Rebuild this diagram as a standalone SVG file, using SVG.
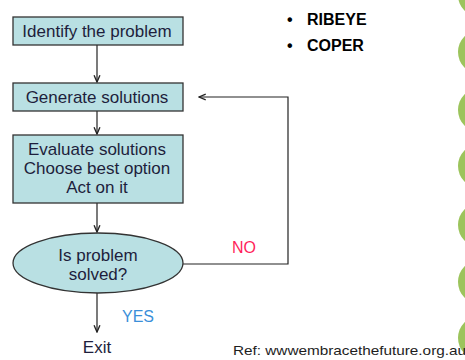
<svg xmlns="http://www.w3.org/2000/svg" width="465" height="360" viewBox="0 0 465 360">
  <defs>
    <style>
      .box { fill: #b9e0e3; stroke: #333333; stroke-width: 1.3; }
      .lbl { font-family: "Liberation Sans", Arial, sans-serif; font-size: 17px; fill: #1e1e3c; text-anchor: middle; }
      .line { fill: none; stroke: #222222; stroke-width: 1.2; }
      .dot { fill: #9cc45c; }
      .bullet { font-family: "Liberation Sans", Arial, sans-serif; font-size: 16px; font-weight: bold; fill: #000000; }
      .edge { font-family: "Liberation Sans", Arial, sans-serif; font-size: 16px; }
    </style>
    <marker id="arrow" viewBox="0 0 10 10" refX="9" refY="5" markerWidth="7" markerHeight="7" orient="auto">
      <path d="M1,1.5 L9,5 L1,8.5" fill="none" stroke="#222222" stroke-width="1.6"/>
    </marker>
  </defs>

  <rect width="465" height="360" fill="#ffffff"/>

  <!-- decorative green circles along the right edge -->
  <g id="side-dots">
    <circle class="dot" cx="480" cy="-5" r="22"/>
    <circle class="dot" cx="480" cy="52" r="22"/>
    <circle class="dot" cx="480" cy="110" r="22"/>
    <circle class="dot" cx="480" cy="166" r="22"/>
    <circle class="dot" cx="480" cy="225" r="22"/>
    <circle class="dot" cx="480" cy="282" r="22"/>
    <circle class="dot" cx="480" cy="338" r="22"/>
  </g>

  <!-- connectors -->
  <g id="connectors">
    <line class="line" x1="97" y1="45" x2="97" y2="82" marker-end="url(#arrow)"/>
    <line class="line" x1="97" y1="111" x2="97" y2="134" marker-end="url(#arrow)"/>
    <line class="line" x1="97" y1="203" x2="97" y2="232" marker-end="url(#arrow)"/>
    <line class="line" x1="97" y1="293" x2="97" y2="332" marker-end="url(#arrow)"/>
    <polyline class="line" points="183,264 288,264 288,97 199,97" marker-end="url(#arrow)"/>
  </g>

  <g id="identify">
    <rect class="box" x="13" y="17" width="170" height="28"/>
    <text class="lbl" x="97" y="37">Identify the problem</text>
  </g>

  <g id="generate">
    <rect class="box" x="13" y="83" width="170" height="28"/>
    <text class="lbl" x="97" y="103">Generate solutions</text>
  </g>

  <g id="evaluate">
    <rect class="box" x="13" y="135" width="170" height="68"/>
    <text class="lbl" x="97" y="155">Evaluate solutions</text>
    <text class="lbl" x="97" y="174">Choose best option</text>
    <text class="lbl" x="97" y="193">Act  on it</text>
  </g>

  <g id="decision">
    <ellipse class="box" cx="98" cy="263" rx="85" ry="30"/>
    <text class="lbl" x="98" y="261">Is problem</text>
    <text class="lbl" x="98" y="280">solved?</text>
  </g>

  <g id="exit">
    <text class="lbl" x="97" y="353">Exit</text>
  </g>

  <g id="edge-labels">
    <text class="edge" x="232" y="253" fill="#ff1f5a">NO</text>
    <text class="edge" x="122" y="322" fill="#3b8fd9">YES</text>
  </g>

  <g id="mnemonics">
    <text class="bullet" x="287" y="25">•</text>
    <text class="bullet" x="307" y="25">RIBEYE</text>
    <text class="bullet" x="287" y="51">•</text>
    <text class="bullet" x="307" y="51">COPER</text>
  </g>

  <g id="reference">
    <text x="233" y="355" font-family="Liberation Sans, Arial, sans-serif" font-size="13" fill="#1e1e1e" textLength="233" lengthAdjust="spacingAndGlyphs">Ref: wwwembracethefuture.org.au</text>
  </g>
</svg>
